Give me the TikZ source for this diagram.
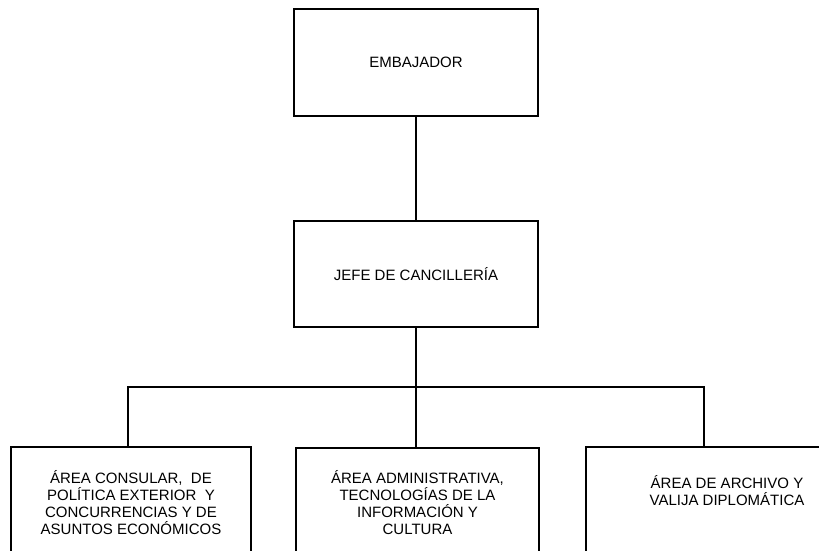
\documentclass[tikz,border=0pt]{standalone}
\usepackage{fontspec}
\setmainfont{Liberation Sans}
\tikzset{
  orgbox/.style={draw=black, line width=1.3pt, fill=white, align=center, inner sep=0pt,
    font=\fontsize{15}{17}\selectfont},
  conn/.style={draw=black, line width=1.8pt}
}
\begin{document}
\begin{tikzpicture}[x=1pt,y=-1pt]
\useasboundingbox (0,0) rectangle (819,550);
\node[orgbox, minimum width=244pt, minimum height=107pt] (emb) at (416,62.5) {EMBAJADOR};
\node[orgbox, minimum width=244pt, minimum height=106pt] (jefe) at (416,274) {JEFE DE CANCILLERÍA};
\coordinate (bus) at (416,387);
\node[orgbox, minimum width=240pt, minimum height=112pt] (a1) at (131,503)
  {ÁREA CONSULAR,~ DE\\POLÍTICA EXTERIOR~ Y\\CONCURRENCIAS Y DE\\ASUNTOS ECONÓMICOS};
\node[orgbox, minimum width=243pt, minimum height=110pt] (a2) at (417.5,503)
  {ÁREA ADMINISTRATIVA,\\TECNOLOGÍAS DE LA\\INFORMACIÓN Y\\CULTURA};
\node[orgbox, minimum width=282pt, minimum height=112pt] (a3) at (727,503)
  {ÁREA DE ARCHIVO Y\\VALIJA DIPLOMÁTICA\\[8pt]};
\draw[conn] (emb.south) -- (jefe.north);
\draw[conn] (jefe.south) -- (bus);
\draw[conn] ([xshift=-3pt]a1.north) |- (bus) -| ([xshift=-23pt]a3.north);
\draw[conn] (bus) -- (bus |- a2.north);
\end{tikzpicture}
\end{document}
